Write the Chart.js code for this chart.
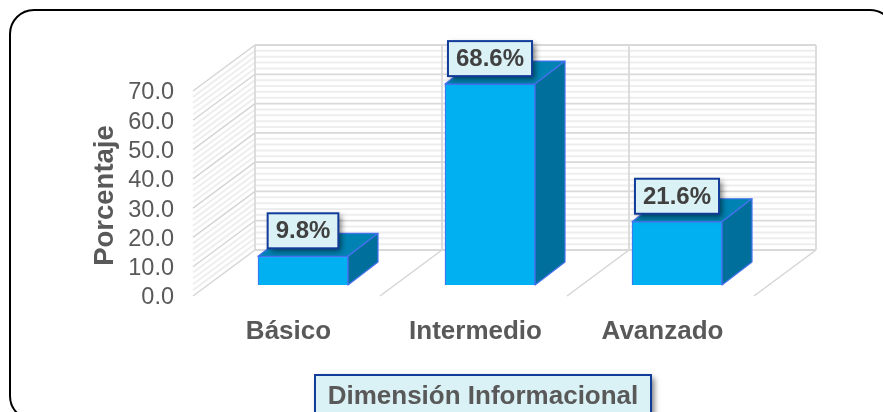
<!DOCTYPE html>
<html><head><meta charset="utf-8">
<style>html,body{margin:0;padding:0;background:#fff;overflow:hidden}#w{width:883px;height:412px;position:relative}</style>
<script src="https://cdn.jsdelivr.net/npm/chart.js@4"></script>
</head><body><div id="w"><canvas id="c"></canvas></div>
<script>
const categories = ['Básico','Intermedio','Avanzado'];
const percentages = [9.8,68.6,21.6];
const yMin = 0, yMax = 70, yStep = 10, yMinorStep = 2;
const yTitle = 'Porcentaje';
const xTitle = 'Dimensión Informacional';

const FONT = '"Liberation Sans", Arial, sans-serif';
const WALL = {dx:62, dy:-46};
const BAR = {dx:16.5, dy:-11, sx:30, sy:-23};

function line(ctx,x1,y1,x2,y2,color,w){ctx.strokeStyle=color;ctx.lineWidth=w;ctx.beginPath();ctx.moveTo(x1,y1);ctx.lineTo(x2,y2);ctx.stroke();}
function poly(ctx,pts,fill,stroke){ctx.beginPath();pts.forEach((p,i)=>i?ctx.lineTo(p[0],p[1]):ctx.moveTo(p[0],p[1]));ctx.closePath();ctx.fillStyle=fill;ctx.fill();ctx.strokeStyle=stroke;ctx.lineWidth=1.2;ctx.lineJoin='round';ctx.stroke();}
function shadowBox(ctx,x,y,w,h){
  ctx.save();ctx.shadowColor='rgba(0,0,0,0.55)';ctx.shadowBlur=6;ctx.shadowOffsetX=3;ctx.shadowOffsetY=3;
  ctx.fillStyle='#DAF1F5';ctx.fillRect(x,y,w,h);ctx.restore();
  ctx.strokeStyle='#123C9A';ctx.lineWidth=2;ctx.strokeRect(x,y,w,h);
}
function shiftTitle(s,dx,dy){
  if(s._shifted)return;
  const o=s.drawTitle;
  s.drawTitle=function(){const c=this.ctx;c.save();c.translate(dx,dy);o.call(this);c.restore();};
  s._shifted=true;
}

const scene = {
  id:'scene',
  afterLayout(chart){
    shiftTitle(chart.scales.x,9.5,0);
    shiftTitle(chart.scales.y,0,2);
  },
  beforeDraw(chart){
    const ctx=chart.ctx,y=chart.scales.y,a=chart.chartArea;
    ctx.save();
    ctx.fillStyle='#fff';ctx.fillRect(0,0,chart.width,chart.height);
    ctx.strokeStyle='#000';ctx.lineWidth=2;ctx.beginPath();ctx.roundRect(10,10,884,410,24);ctx.stroke();
    const bl=a.left+WALL.dx,br=a.right+WALL.dx;
    const bands=categories.length;
    for(let v=yMin;v<=yMax;v+=yMinorStep){
      if(v%yStep===0)continue;
      const p=y.getPixelForValue(v);
      line(ctx,a.left,p,bl,p+WALL.dy,'#EEEEEE',2);
      line(ctx,bl,p+WALL.dy,br,p+WALL.dy,'#EEEEEE',2);
    }
    for(let i=0;i<=bands;i++){
      const xb=bl+(br-bl)*i/bands;
      line(ctx,xb,y.getPixelForValue(yMin)+WALL.dy,xb,y.getPixelForValue(yMax)+WALL.dy,'#DADADA',1.8);
      const xf=a.left+(a.right-a.left)*i/bands;
      line(ctx,xf,a.bottom,xb,a.bottom+WALL.dy,'#D4D4D4',1.4);
    }
    for(let v=yMin;v<=yMax;v+=yStep){
      const p=y.getPixelForValue(v);
      if(v>yMin)line(ctx,a.left,p,bl,p+WALL.dy,'#D4D4D4',1.4);
      line(ctx,bl,p+WALL.dy,br,p+WALL.dy,'#D9D9D9',1.8);
    }
    shadowBox(ctx,315,375,336,50);
    ctx.restore();
  },
  beforeDatasetsDraw(chart){
    const ctx=chart.ctx;
    ctx.save();
    ctx.translate(BAR.dx,BAR.dy);
    chart.getDatasetMeta(0).data.forEach(b=>{
      const l=b.x-b.width/2,r=b.x+b.width/2,t=b.y,bt=b.base;
      poly(ctx,[[l,t],[r,t],[r+BAR.sx,t+BAR.sy],[l+BAR.sx,t+BAR.sy]],'#0083B3','#4472F0');
      poly(ctx,[[r,t],[r+BAR.sx,t+BAR.sy],[r+BAR.sx,bt+BAR.sy],[r,bt]],'#006F9B','#4472F0');
    });
  },
  afterDatasetsDraw(chart){
    const ctx=chart.ctx;
    ctx.restore();
    ctx.save();
    chart.getDatasetMeta(0).data.forEach((b,i)=>{
      const txt=percentages[i].toFixed(1)+'%';
      const cx=b.x+BAR.dx,boxB=b.y+BAR.dy-8;
      ctx.font='bold 24px '+FONT;
      const w=ctx.measureText(txt).width+16,h=35;
      shadowBox(ctx,cx-w/2,boxB-h,w,h);
      ctx.fillStyle='#404040';ctx.textAlign='center';ctx.textBaseline='middle';
      ctx.fillText(txt,cx,boxB-h/2+1);
    });
    ctx.restore();
  }
};

new Chart(document.getElementById('c'),{
  type:'bar',
  data:{labels:categories,datasets:[{data:percentages,backgroundColor:'#00B0F0',borderColor:'#4472F0',borderWidth:1.2,barThickness:90}]},
  plugins:[scene],
  options:{
    responsive:true,maintainAspectRatio:false,animation:false,
    layout:{padding:{left:0,right:129,top:91,bottom:0}},
    plugins:{legend:{display:false},tooltip:{enabled:false}},
    scales:{
      x:{
        grid:{display:false},border:{display:false},
        afterFit(s){s.height=116;},
        ticks:{color:'#595959',font:{family:FONT,size:26,weight:'bold'},padding:12,labelOffset:2,maxRotation:0,autoSkip:false},
        title:{display:true,text:xTitle,color:'#595959',font:{family:FONT,size:26,weight:'bold'},padding:{top:0,bottom:0}}
      },
      y:{
        min:yMin,max:yMax,
        grid:{display:false},border:{display:false},
        afterFit(s){s.width=193;},
        ticks:{stepSize:yStep,autoSkip:false,color:'#595959',font:{family:FONT,size:23.5},padding:11,labelOffset:2,callback:v=>v.toFixed(1)},
        title:{display:true,text:yTitle,color:'#595959',font:{family:FONT,size:27.5,weight:'bold'},padding:{top:89,bottom:0}}
      }
    }
  }
});
</script></body></html>
